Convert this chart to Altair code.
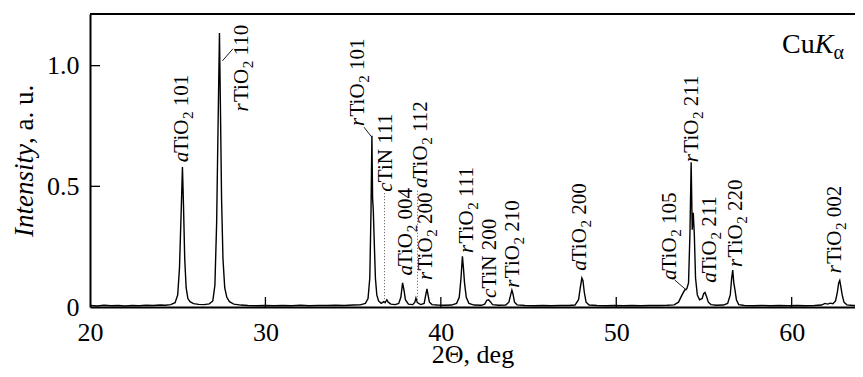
import altair as alt
import pandas as pd

# ---------------- data ----------------
two_theta = [20.0, 20.4, 20.8, 21.2, 21.6, 22.0, 22.4, 22.8, 23.2, 23.6, 24.0, 24.3, 24.6, 24.85,
             25.0, 25.1, 25.2, 25.27, 25.33, 25.4, 25.48, 25.58, 25.7, 25.9, 26.2, 26.5, 26.8,
             27.0, 27.12, 27.22, 27.3, 27.38, 27.44, 27.5, 27.58, 27.68, 27.8, 27.95, 28.2, 28.6,
             29.0, 29.5, 30.0, 30.5, 31.0, 31.5, 32.0, 32.5, 33.0, 33.5, 34.0, 34.5, 35.0, 35.4,
             35.7, 35.85, 35.95, 36.02, 36.07, 36.11, 36.15, 36.2, 36.27, 36.35, 36.45, 36.6,
             36.75, 36.82, 36.92, 37.0, 37.15, 37.4, 37.6, 37.72, 37.82, 37.9, 37.98, 38.15,
             38.4, 38.52, 38.58, 38.66, 38.85, 39.05, 39.14, 39.21, 39.27, 39.35, 39.5, 39.8,
             40.2, 40.6, 40.9, 41.05, 41.15, 41.23, 41.29, 41.35, 41.45, 41.6, 41.9, 42.3, 42.5,
             42.62, 42.72, 42.82, 42.95, 43.3, 43.7, 43.88, 43.98, 44.05, 44.11, 44.2, 44.35,
             44.8, 45.3, 45.8, 46.3, 46.8, 47.3, 47.65, 47.85, 47.95, 48.04, 48.1, 48.18, 48.28,
             48.45, 48.9, 49.4, 49.9, 50.4, 50.9, 51.4, 51.9, 52.4, 52.9, 53.3, 53.55, 53.75,
             53.9, 54.02, 54.12, 54.2, 54.27, 54.33, 54.39, 54.45, 54.52, 54.62, 54.75, 54.9,
             54.98, 55.06, 55.14, 55.25, 55.4, 55.7, 56.1, 56.35, 56.5, 56.58, 56.64, 56.7,
             56.77, 56.85, 56.98, 57.3, 57.8, 58.3, 58.8, 59.3, 59.8, 60.3, 60.8, 61.3, 61.7,
             61.9, 62.05, 62.2, 62.35, 62.5, 62.6, 62.68, 62.74, 62.8, 62.88, 62.98, 63.15,
             63.5, 64.0, 64.1]
intensity = [0.006, 0.004, 0.007, 0.005, 0.006, 0.004, 0.006, 0.005, 0.007, 0.006, 0.008, 0.007, 0.010, 0.018,
             0.05, 0.16, 0.40, 0.58, 0.42, 0.20, 0.08, 0.035, 0.022, 0.014, 0.011, 0.010, 0.013,
             0.025, 0.09, 0.35, 0.75, 1.135, 0.80, 0.45, 0.20, 0.08, 0.04, 0.022, 0.012, 0.008,
             0.006, 0.005, 0.006, 0.005, 0.006, 0.005, 0.007, 0.005, 0.006, 0.006, 0.007, 0.006, 0.008, 0.009,
             0.015, 0.035, 0.12, 0.40, 0.71, 0.45, 0.40, 0.28, 0.12, 0.05, 0.025, 0.015,
             0.022, 0.018, 0.03, 0.02, 0.012, 0.01, 0.015, 0.04, 0.10, 0.07, 0.03, 0.012,
             0.01, 0.02, 0.037, 0.018, 0.01, 0.015, 0.05, 0.075, 0.05, 0.02, 0.01, 0.008,
             0.007, 0.008, 0.015, 0.04, 0.12, 0.21, 0.16, 0.10, 0.04, 0.015, 0.008, 0.007, 0.012,
             0.028, 0.03, 0.022, 0.01, 0.007, 0.008, 0.02, 0.05, 0.07, 0.055, 0.02, 0.009,
             0.006, 0.005, 0.006, 0.005, 0.006, 0.006, 0.008, 0.03, 0.08, 0.12, 0.11, 0.06, 0.02,
             0.008, 0.006, 0.005, 0.006, 0.005, 0.006, 0.005, 0.006, 0.006, 0.007, 0.009, 0.02, 0.05,
             0.07, 0.075, 0.10, 0.30, 0.60, 0.32, 0.39, 0.30, 0.12, 0.05, 0.03, 0.035,
             0.055, 0.06, 0.045, 0.02, 0.01, 0.007, 0.008, 0.015, 0.05, 0.12, 0.153, 0.10,
             0.07, 0.03, 0.01, 0.006, 0.005, 0.006, 0.005, 0.006, 0.005, 0.006, 0.005, 0.006, 0.008,
             0.015, 0.012, 0.016, 0.014, 0.025, 0.06, 0.10, 0.11, 0.085, 0.05, 0.02, 0.009,
             0.006, 0.007, 0.006]

x_ticks = [20, 30, 40, 50, 60]
y_ticks = [0, 0.5, 1.0]

# peak labels: baseline position (2theta), start (intensity), text pieces
lab_x = [25.57, 29.0, 35.6, 37.19, 38.33, 39.19, 39.47, 41.81, 43.17, 44.48, 48.3, 53.38, 54.68, 55.66, 57.14, 62.84]
lab_y = [0.60, 0.81, 0.75, 0.478, 0.13, 0.493, 0.112, 0.224, 0.037, 0.08, 0.15, 0.112, 0.60, 0.10, 0.166, 0.14]
lab_pre = ["a", "r", "r", "c", "a", "a", "r", "r", "c", "r", "a", "a", "r", "a", "r", "r"]
lab_main = ["TiO", "TiO", "TiO", "TiN 111", "TiO", "TiO", "TiO", "TiO", "TiN 200", "TiO", "TiO", "TiO", "TiO", "TiO", "TiO", "TiO"]
lab_sub = ["2", "2", "2", "", "2", "2", "2", "2", "", "2", "2", "2", "2", "2", "2", "2"]
lab_suf = ["101", "110", "101", "", "004", "112", "200", "111", "", "210", "200", "105", "211", "211", "220", "002"]

# dotted marker lines
dot_x = [36.79, 38.67]
dot_y0 = [0.02, 0.03]
dot_y1 = [0.478, 0.49]

# leader lines
lead_x1 = [27.55, 35.62, 53.33]
lead_y1 = [1.02, 0.745, 0.112]
lead_x2 = [28.15, 36.05, 54.0]
lead_y2 = [1.07, 0.705, 0.07]

y_title = ["Intensity", ", a. u."]
x_title = "2\u0398, deg"
cuka = ["Cu", "K", "\u03b1"]

# ---------------- chart ----------------
W, H = 765, 293
FONT = "Liberation Serif"
xs = alt.Scale(domain=[20, 63.61], nice=False, zero=False)
ys = alt.Scale(domain=[0, 1.214], nice=False, zero=False)

spec_df = pd.DataFrame({"x": two_theta, "y": intensity})
lab_df = pd.DataFrame({"x": lab_x, "y": lab_y, "pre": lab_pre, "main": lab_main,
                       "sub": lab_sub, "suf": lab_suf})
dot_df = pd.DataFrame({"x": dot_x, "y": dot_y0, "y2": dot_y1})
lead_df = pd.DataFrame({"x": lead_x1, "y": lead_y1, "x2": lead_x2, "y2": lead_y2})
xt_df = pd.DataFrame({"x": x_ticks[1:], "y": [0] * 4})
yt_df = pd.DataFrame({"y": y_ticks[1:], "x": [20] * 2})
one = pd.DataFrame({"a": [0]})

x_axis = alt.Axis(values=x_ticks, ticks=False, grid=False, domainColor="black", domainWidth=2,
                  labelFont=FONT, labelFontSize=26, labelColor="black", labelPadding=12,
                  labelFlush=False, labelAngle=0,
                  title=x_title, titleFont=FONT, titleFontSize=26, titleFontWeight="normal",
                  titleColor="black", titleBaseline="alphabetic", titleY=55)
y_axis = alt.Axis(values=y_ticks, ticks=False, grid=False, domainColor="black", domainWidth=2,
                  labelFont=FONT, labelFontSize=26, labelColor="black", labelPadding=11,
                  labelFlush=False, labelExpr="datum.value == 0 ? '0' : format(datum.value, '.1f')",
                  title=None)

X = lambda f="x:Q": alt.X(f, scale=xs, axis=x_axis)
Y = lambda f="y:Q": alt.Y(f, scale=ys, axis=y_axis)

line = alt.Chart(spec_df).mark_line(color="black", strokeWidth=1.4, clip=True).encode(
    x=X(), y=Y())

top_rule = alt.Chart(one).mark_rule(color="black", strokeWidth=2).encode(
    x=alt.value(0), x2=alt.value(W), y=alt.value(0))

xt = alt.Chart(xt_df).mark_rule(color="black", strokeWidth=1.3).encode(
    x=X(), y=alt.value(H), y2=alt.value(H - 10))
yt = alt.Chart(yt_df).mark_rule(color="black", strokeWidth=1.3).encode(
    y=Y(), x=alt.value(0), x2=alt.value(10))

dots = alt.Chart(dot_df).mark_rule(color="#555555", strokeWidth=1, strokeDash=[1, 2]).encode(
    x=X(), y=Y(), y2="y2:Q")

leads = alt.Chart(lead_df).mark_rule(color="black", strokeWidth=0.9).encode(
    x=X(), y=Y(), x2="x2:Q", y2="y2:Q")

LFS = 21
def lab_layer(field, dx, dy=0, size=LFS, style="normal"):
    return alt.Chart(lab_df).mark_text(angle=270, align="left", baseline="alphabetic", font=FONT,
                                       fontSize=size, fontStyle=style, color="black",
                                       dx=dx, dy=dy).encode(
        x=X(), y=Y(), text=f"{field}:N")

t_pre = lab_layer("pre", 0, style="italic")
t_main = lab_layer("main", 9.5)
t_sub = lab_layer("sub", 43.3, dy=5, size=15)
t_suf = lab_layer("suf", 56)

yt1 = alt.Chart(one).mark_text(angle=270, align="left", baseline="alphabetic", font=FONT,
                               fontSize=27, fontStyle="italic", color="black",
                               text=y_title[0]).encode(x=alt.value(-57), y=alt.value(223))
yt2 = alt.Chart(one).mark_text(angle=270, align="left", baseline="alphabetic", font=FONT,
                               fontSize=27, color="black", dx=93,
                               text=y_title[1]).encode(x=alt.value(-57), y=alt.value(223))

CX, CY = 692, 39
c1 = alt.Chart(one).mark_text(align="left", baseline="alphabetic", font=FONT, fontSize=28,
                              color="black", text=cuka[0]).encode(x=alt.value(CX), y=alt.value(CY))
c2 = alt.Chart(one).mark_text(align="left", baseline="alphabetic", font=FONT, fontSize=28,
                              fontStyle="italic", color="black", dx=32.7,
                              text=cuka[1]).encode(x=alt.value(CX), y=alt.value(CY))
c3 = alt.Chart(one).mark_text(align="left", baseline="alphabetic", font=FONT, fontSize=20,
                              color="black", dx=51.5, dy=6,
                              text=cuka[2]).encode(x=alt.value(CX), y=alt.value(CY))

chart = alt.layer(
    line, top_rule, xt, yt, dots, leads, t_pre, t_main, t_sub, t_suf, yt1, yt2, c1, c2, c3
).properties(
    width=W, height=H,
    autosize=alt.AutoSizeParams(type="none"),
    padding={"left": 82, "top": 6, "right": 0, "bottom": 62},
    background="white",
).configure_view(stroke=None)

chart.save("out.html", embed_options={"renderer": "svg", "actions": False})
